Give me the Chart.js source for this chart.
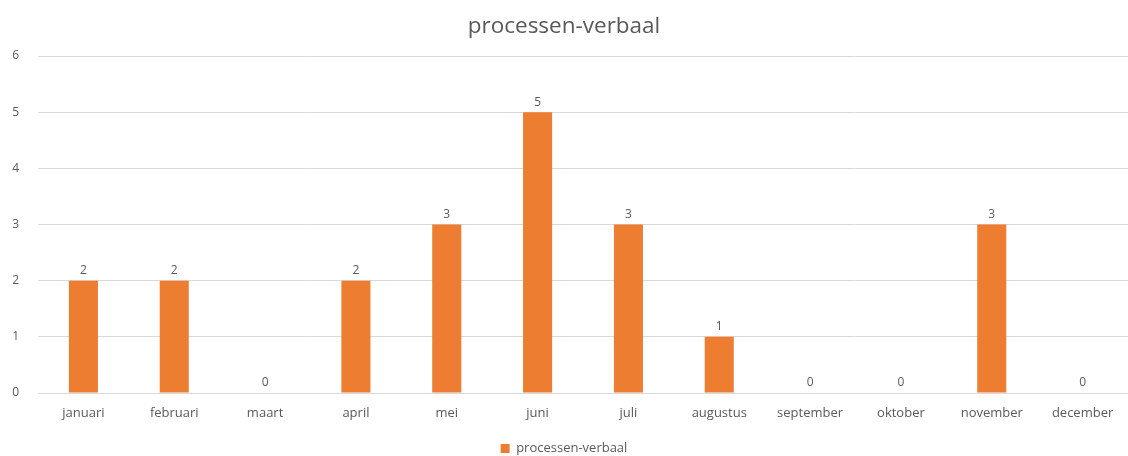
<!DOCTYPE html>
<html>
<head>
<meta charset="utf-8">
<script src="https://cdn.jsdelivr.net/npm/chart.js@4"></script>
<style>
  html, body { margin: 0; padding: 0; background: #fff; }
  #wrap { width: 1128px; height: 456px; }
</style>
</head>
<body>
<div id="wrap"><canvas id="myChart" width="1128" height="456"></canvas></div>
<script>
const months = ['januari', 'februari', 'maart', 'april', 'mei', 'juni', 'juli', 'augustus', 'september', 'oktober', 'november', 'december'];
const counts = [2, 2, 0, 2, 3, 5, 3, 1, 0, 0, 3, 0];
const seriesName = 'processen-verbaal';
const yTicks = [0, 1, 2, 3, 4, 5, 6];

const labelColor = '#595959';
const fontFamily = "'Open Sans', 'Liberation Sans', sans-serif";

// value labels above each bar
const valueLabels = {
    id: 'valueLabels',
    afterDatasetsDraw(chart) {
        const ctx = chart.ctx;
        const meta = chart.getDatasetMeta(0);
        ctx.save();
        ctx.font = `12px ${fontFamily}`;
        ctx.fillStyle = labelColor;
        ctx.textAlign = 'center';
        ctx.textBaseline = 'bottom';
        meta.data.forEach((bar, i) => {
            ctx.fillText(String(counts[i]), bar.x, bar.y - 4);
        });
        ctx.restore();
    }
};

const ctx = document.querySelector('#myChart').getContext('2d');
const myChart = new Chart(ctx, {
    type: 'bar',
    data: {
        labels: months,
        datasets: [{
            label: seriesName,
            data: counts,
            backgroundColor: '#ED7D31',
            borderWidth: 0,
            categoryPercentage: 1,
            barPercentage: 0.32
        }]
    },
    options: {
        responsive: false,
        animation: false,
        layout: { padding: { top: 0, left: 0, right: 0, bottom: -9 } },
        plugins: {
            title: {
                display: true,
                text: seriesName,
                color: labelColor,
                font: { family: fontFamily, size: 22.5, weight: 'normal' },
                padding: { top: 13, bottom: 16 }
            },
            legend: {
                position: 'bottom',
                labels: {
                    color: labelColor,
                    font: { family: fontFamily, size: 13 },
                    boxWidth: 9,
                    boxHeight: 9,
                    padding: 2
                }
            },
            tooltip: { enabled: false }
        },
        scales: {
            x: {
                afterFit(scale) { scale.height = 47; },
                grid: { display: false, drawTicks: false },
                border: { display: true, color: '#d9d9d9' },
                ticks: {
                    color: labelColor,
                    font: { family: fontFamily, size: 13 },
                    padding: 12,
                    maxRotation: 0,
                    autoSkip: false
                }
            },
            y: {
                min: 0,
                max: 6,
                afterFit(scale) { scale.width = 38; },
                afterBuildTicks(scale) { scale.ticks = yTicks.map(v => ({ value: v })); },
                grid: { color: '#d9d9d9', drawTicks: false },
                border: { display: false },
                ticks: {
                    color: labelColor,
                    font: { family: fontFamily, size: 12 },
                    padding: 19
                }
            }
        }
    },
    plugins: [valueLabels]
});
</script>
</body>
</html>
